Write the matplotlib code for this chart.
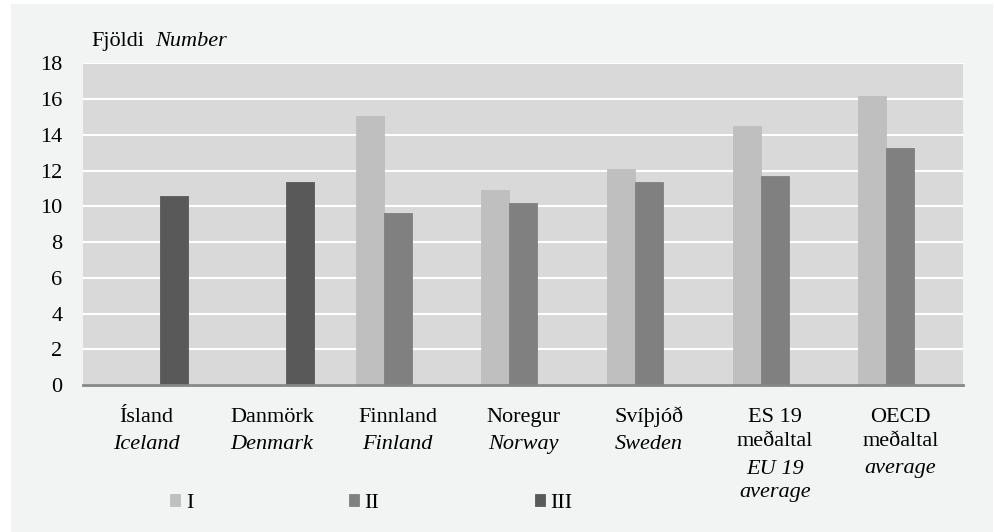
import numpy as np
import matplotlib
matplotlib.use("Agg")
import matplotlib.pyplot as plt
from matplotlib.patches import Rectangle
from matplotlib import transforms

plt.rcParams['font.family'] = ['Liberation Serif', 'DejaVu Serif']

# data
labels_is = ["Ísland", "Danmörk", "Finnland", "Noregur", "Svíþjóð", "ES 19\nmeðaltal", "OECD\nmeðaltal"]
labels_en = ["Iceland", "Denmark", "Finland", "Norway", "Sweden", "EU 19\naverage", "average"]
series_names = ["I", "II", "III"]
level_1 = [np.nan, np.nan, 15.05, 10.90, 12.10, 14.47, 16.17]
level_2 = [np.nan, np.nan, 9.65, 10.20, 11.35, 11.68, 13.25]
level_3 = [10.55, 11.35, np.nan, np.nan, np.nan, np.nan, np.nan]
colors = ["#bfbfbf", "#808080", "#595959"]

W, H = 994, 532
fig = plt.figure(figsize=(W / 100, H / 100), dpi=100)
fig.patch.set_facecolor("white")
fig.patches.append(Rectangle((11 / W, 0), (993 - 11) / W, (H - 4) / H,
                             transform=fig.transFigure, facecolor="#f2f3f3",
                             edgecolor="none", zorder=-10))

ax = fig.add_axes([83.3 / W, 1 - 385 / H, 880 / W, (385 - 63.3) / H])
ax.set_facecolor("#d9d9d9")

x = np.arange(len(labels_is))
w = 0.223
bars = []
for k, vals in enumerate([level_1, level_2, level_3]):
    b = ax.bar(x + (k - 1) * w, vals, width=w, color=colors[k],
               edgecolor=colors[k], linewidth=0.6, label=series_names[k], zorder=3)
    bars.append(b)

ax.set_xlim(-0.5, len(x) - 0.5)
ax.set_ylim(0, 18)
ax.set_yticks(range(0, 19, 2))
ax.set_xticks([])
ax.tick_params(axis="y", length=0, pad=15, labelsize=16)
ax.yaxis.grid(True, color="white", linewidth=1.5, zorder=1)
ax.set_axisbelow(True)
for s in ["top", "right", "left"]:
    ax.spines[s].set_visible(False)
ax.spines["bottom"].set_color("#868686")
ax.spines["bottom"].set_linewidth(2)
ax.spines["bottom"].set_zorder(4)

# y-axis title
fig.text(91.7 / W, 1 - 46 / H, "Fjöldi", fontsize=16, va="baseline")
fig.text(155 / W, 1 - 46 / H, "Number", fontsize=16, style="italic", va="baseline")

# category labels, Icelandic then English in italics
trans = transforms.blended_transform_factory(ax.transData, fig.transFigure)
for i in x:
    y = 422
    for line in labels_is[i].split("\n"):
        ax.text(i, 1 - y / H, line, transform=trans, ha="center", va="baseline", fontsize=16)
        y += 24.5
    y += 26 - 24.5 + 1
    for line in labels_en[i].split("\n"):
        ax.text(i, 1 - y / H, line, transform=trans, ha="center", va="baseline",
                fontsize=16, style="italic")
        y += 23

fig.legend(handles=bars, labels=series_names, loc="center",
           bbox_to_anchor=(371.5 / W, 1 - 503 / H), ncol=3, frameon=False,
           handlelength=0.45, handleheight=0.45, handletextpad=0.25,
           columnspacing=7, fontsize=16)

fig.savefig("out.png", dpi=100)
